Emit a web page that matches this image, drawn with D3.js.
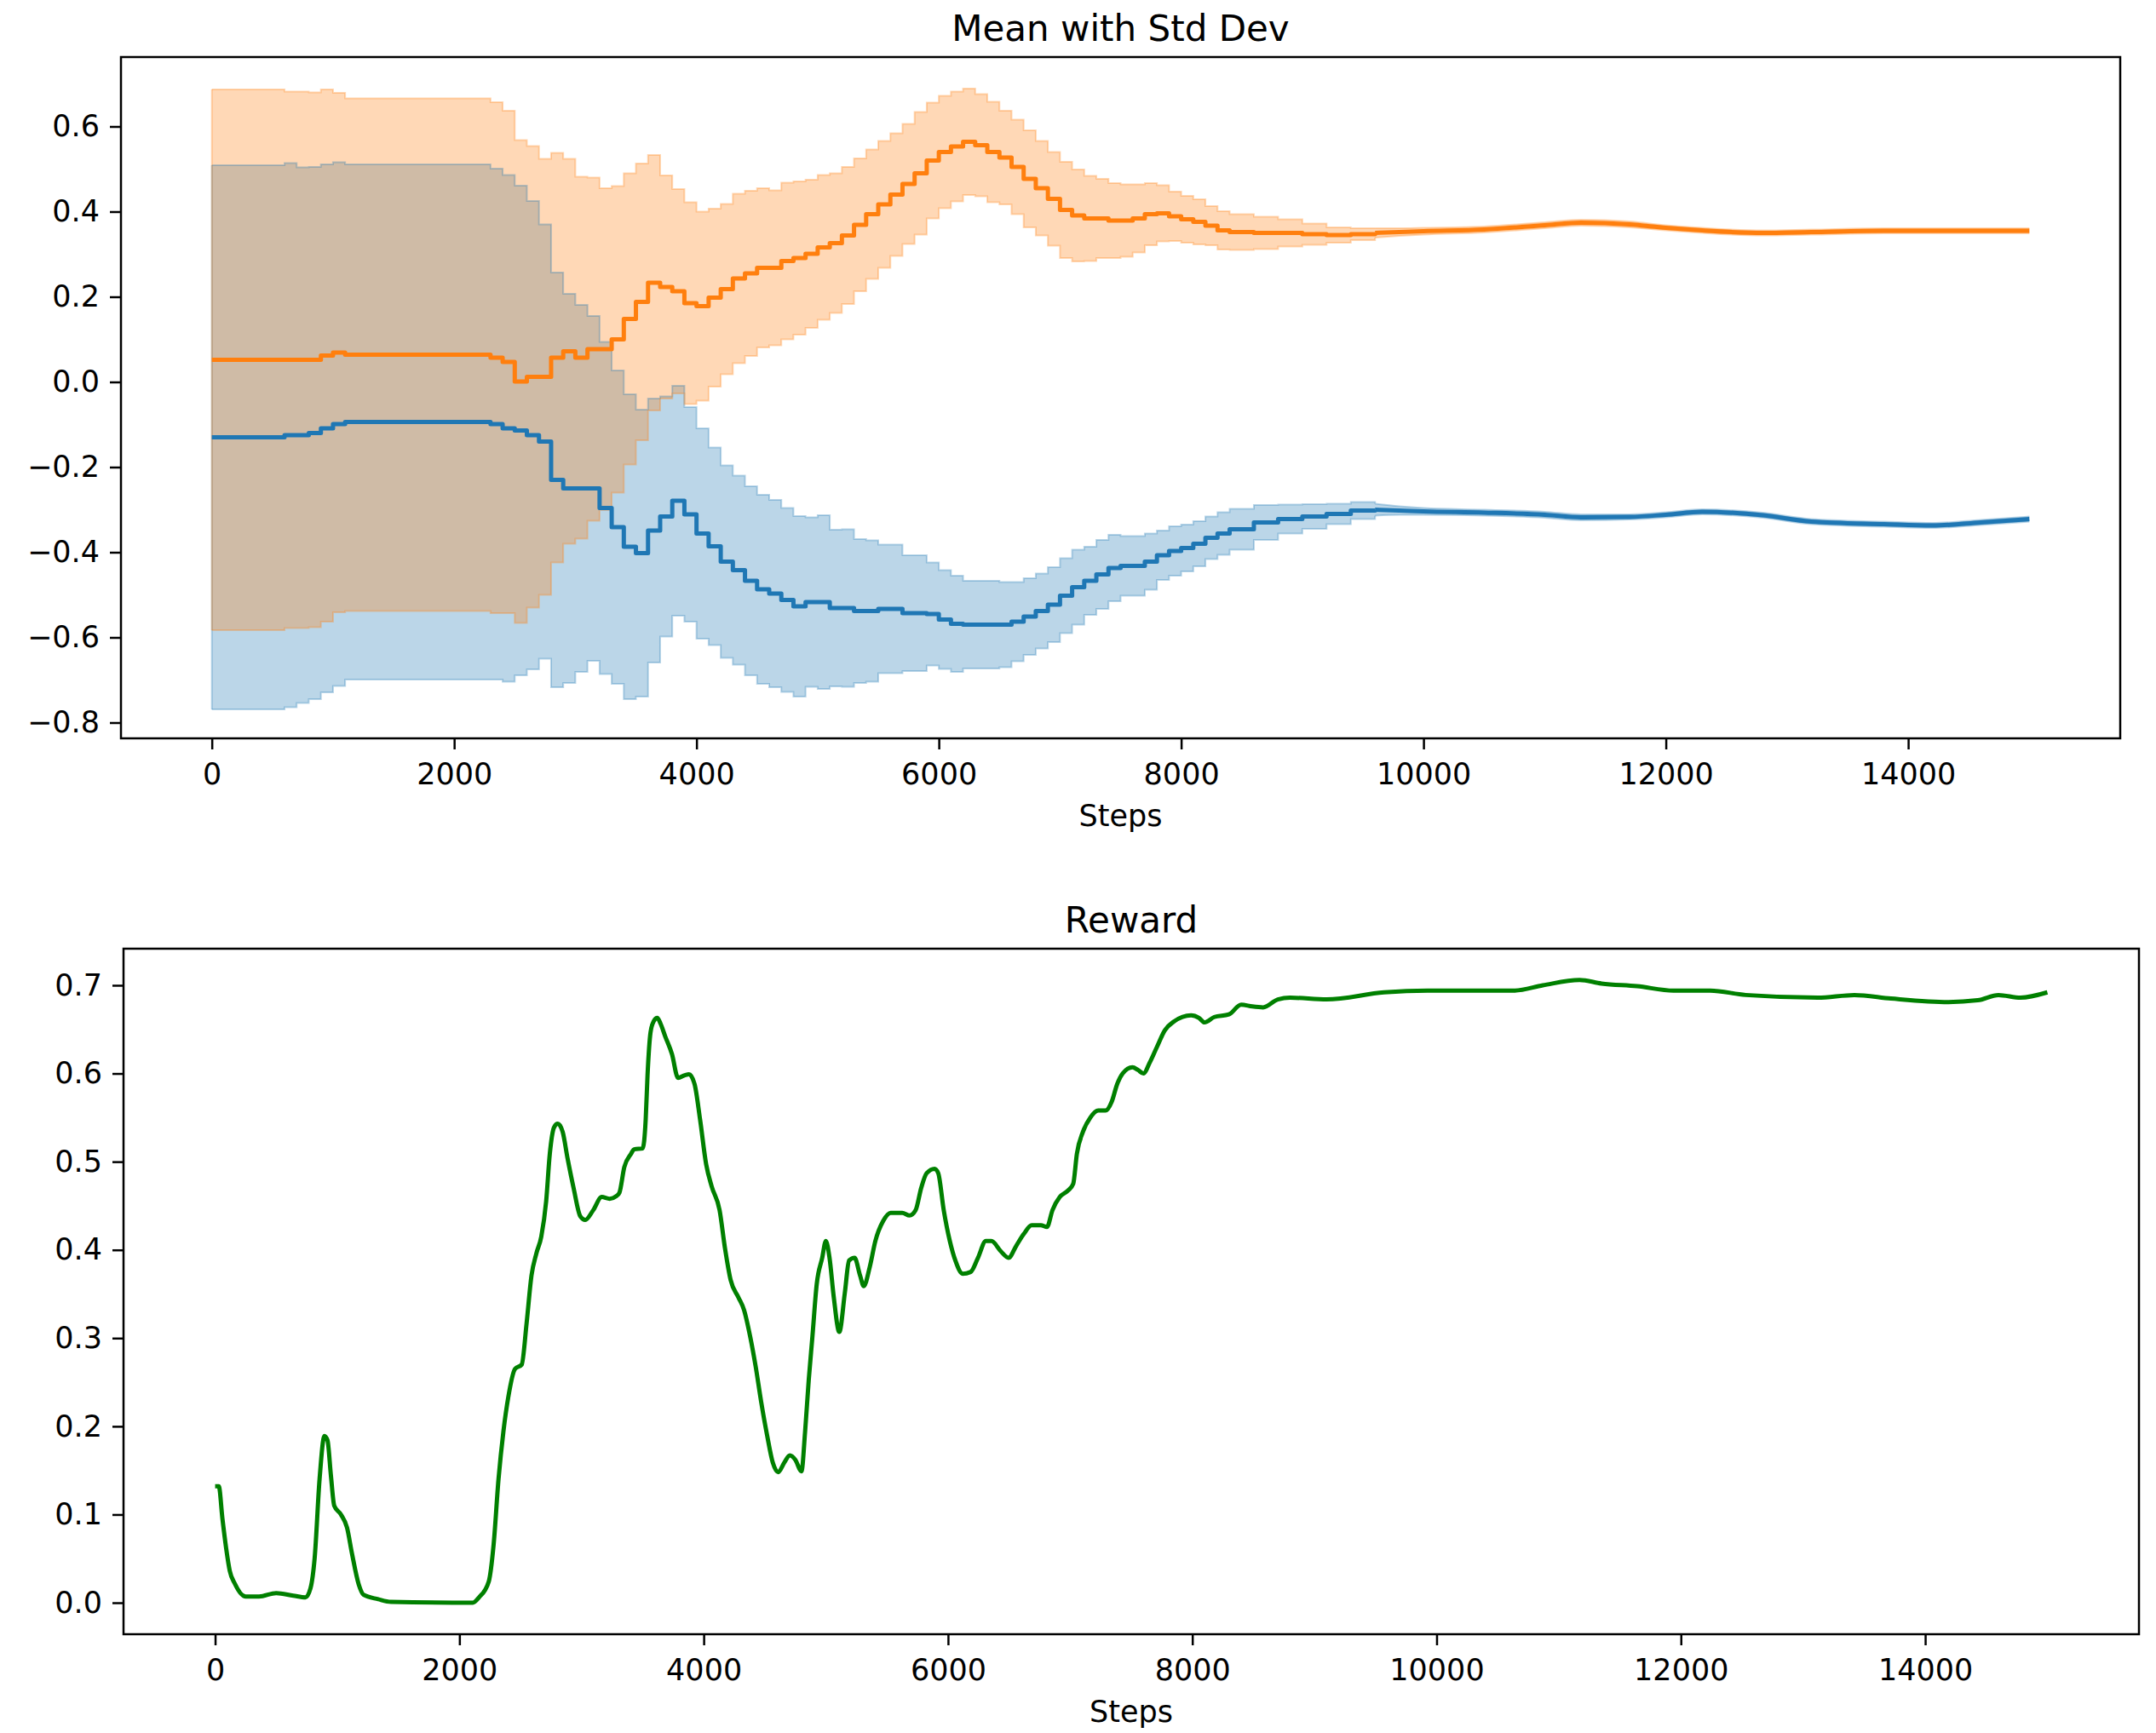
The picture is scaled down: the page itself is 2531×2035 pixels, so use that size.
<!DOCTYPE html>
<html>
<head>
<meta charset="utf-8">
<script src="https://cdn.jsdelivr.net/npm/d3@7"></script>
<style>
  body { margin: 0; background: #fff; }
  svg { display: block; }
  text { font-family: "DejaVu Sans", sans-serif; fill: #000; }
</style>
</head>
<body>
<div id="chart"></div>
<script>
// Datos: pasos de entrenamiento, media y desviación de las dos acciones
const steps = [0, 600, 700, 800, 900, 1000, 1100,
  2300, 2400, 2500, 2600, 2700, 2800, 2900, 3000, 3100, 3200,
  3300, 3400, 3500, 3600, 3700, 3800, 3900, 4000, 4100, 4200,
  4300, 4400, 4500, 4600, 4700, 4800, 4900, 5000, 5100, 5200,
  5300, 5400, 5500, 5600, 5700, 5800, 5900, 6000, 6100, 6200,
  6300, 6400, 6500, 6600, 6700, 6800, 6900, 7000, 7100, 7200,
  7300, 7400, 7500, 7600, 7700, 7800, 7900, 8000, 8100, 8200,
  8300, 8400,
  8600, 8800, 9000, 9200, 9400, 9600, 9800,
  10000, 10500, 11000, 11300, 11700, 12000, 12300, 12800, 13200, 13800, 14200, 14600, 15000];

const blueMean = [-0.130, -0.125, -0.125, -0.120, -0.109, -0.099, -0.094,
  -0.099, -0.109, -0.114, -0.125, -0.140, -0.230, -0.250, -0.250, -0.250, -0.296,
  -0.341, -0.387, -0.402, -0.349, -0.316, -0.279, -0.311, -0.356, -0.386, -0.422,
  -0.442, -0.467, -0.487, -0.497, -0.512, -0.527, -0.517, -0.517, -0.531, -0.531,
  -0.538, -0.538, -0.533, -0.533, -0.543, -0.543, -0.545, -0.558, -0.568, -0.570,
  -0.570, -0.570, -0.570, -0.563, -0.551, -0.538, -0.523, -0.502, -0.482, -0.467,
  -0.452, -0.437, -0.432, -0.432, -0.422, -0.407, -0.397, -0.390, -0.380, -0.366,
  -0.356, -0.346,
  -0.330, -0.322, -0.316, -0.310, -0.302, -0.300, -0.302,
  -0.304, -0.307, -0.312, -0.318, -0.317, -0.312, -0.305, -0.313, -0.328, -0.334, -0.337, -0.330, -0.322];

const blueStd = [0.639, 0.639, 0.629, 0.625, 0.620, 0.615, 0.605,
  0.600, 0.595, 0.575, 0.550, 0.510, 0.487, 0.457, 0.431, 0.405, 0.390,
  0.368, 0.358, 0.337, 0.310, 0.282, 0.270, 0.252, 0.247, 0.232, 0.226,
  0.222, 0.222, 0.222, 0.220, 0.216, 0.212, 0.199, 0.204, 0.184, 0.185,
  0.169, 0.166, 0.151, 0.151, 0.136, 0.136, 0.121, 0.116, 0.113, 0.103,
  0.103, 0.103, 0.100, 0.093, 0.090, 0.088, 0.088, 0.088, 0.088, 0.080,
  0.081, 0.078, 0.070, 0.070, 0.066, 0.058, 0.058, 0.055, 0.053, 0.050,
  0.050, 0.048,
  0.041, 0.034, 0.029, 0.024, 0.020, 0.014, 0.010,
  0.008, 0.007, 0.007, 0.007, 0.006, 0.006, 0.006, 0.006, 0.006, 0.006, 0.006, 0.006, 0.006];

const orangeMean = [0.052, 0.052, 0.052, 0.052, 0.062, 0.069, 0.064,
  0.057, 0.047, 0.001, 0.012, 0.012, 0.057, 0.072, 0.057, 0.077, 0.077,
  0.100, 0.148, 0.188, 0.233, 0.223, 0.213, 0.185, 0.178, 0.198, 0.218,
  0.243, 0.255, 0.268, 0.268, 0.284, 0.291, 0.301, 0.316, 0.326, 0.344,
  0.369, 0.394, 0.417, 0.440, 0.465, 0.490, 0.520, 0.540, 0.553, 0.564,
  0.556, 0.540, 0.527, 0.505, 0.477, 0.455, 0.430, 0.404, 0.391, 0.384,
  0.384, 0.379, 0.379, 0.384, 0.394, 0.396, 0.389, 0.382, 0.376, 0.367,
  0.356, 0.352,
  0.350, 0.350, 0.347, 0.345, 0.347, 0.350, 0.352,
  0.354, 0.358, 0.368, 0.374, 0.370, 0.362, 0.356, 0.350, 0.352, 0.355, 0.355, 0.355, 0.355];

const orangeStd = [0.635, 0.630, 0.630, 0.628, 0.625, 0.610, 0.602,
  0.600, 0.590, 0.567, 0.542, 0.512, 0.481, 0.452, 0.425, 0.403, 0.378,
  0.360, 0.342, 0.325, 0.300, 0.262, 0.240, 0.237, 0.222, 0.209, 0.200,
  0.199, 0.194, 0.187, 0.182, 0.184, 0.180, 0.174, 0.170, 0.164, 0.161,
  0.156, 0.152, 0.149, 0.144, 0.141, 0.144, 0.136, 0.132, 0.129, 0.125,
  0.120, 0.118, 0.110, 0.111, 0.114, 0.111, 0.110, 0.113, 0.108, 0.100,
  0.093, 0.088, 0.085, 0.080, 0.073, 0.066, 0.058, 0.055, 0.053, 0.046,
  0.045, 0.042,
  0.038, 0.032, 0.025, 0.018, 0.014, 0.011, 0.009,
  0.008, 0.007, 0.007, 0.007, 0.007, 0.006, 0.006, 0.006, 0.006, 0.006, 0.006, 0.006, 0.006];

// A partir de este paso los saltos son tan pequeños que la curva se ve suave
const smoothFrom = 9600;

// Recompensa
const rewardSteps = [0, 30, 60, 90, 120, 160, 250, 360, 500, 640, 740, 780, 815, 855, 895, 920, 948, 975,
  1030, 1080, 1120, 1175, 1215, 1335, 1440, 2110, 2160, 2240, 2280, 2320, 2360, 2400, 2455, 2510,
  2550, 2590, 2630, 2670, 2710, 2740, 2775, 2805, 2845, 2885, 2935, 2990, 3030, 3095, 3165, 3230,
  3285, 3310, 3350, 3405, 3430, 3500, 3525, 3540, 3565, 3590, 3620, 3645, 3685, 3740, 3790, 3845,
  3880, 3925, 3970, 4020, 4065, 4130, 4175, 4220, 4285, 4330, 4380, 4425, 4470, 4520, 4565, 4610,
  4660, 4705, 4750, 4800, 4830, 4860, 4890, 4925, 4970, 5000, 5030, 5065, 5110, 5155, 5190, 5235,
  5280, 5310, 5360, 5405, 5470, 5530, 5625, 5685, 5735, 5780, 5825, 5890, 5920, 5965, 6015, 6060,
  6120, 6185, 6245, 6310, 6355, 6435, 6495, 6560, 6620, 6685, 6760, 6810, 6855, 6915, 6980, 7025,
  7055, 7105, 7165, 7230, 7290, 7340, 7385, 7430, 7510, 7555, 7600, 7650, 7710, 7775, 7850, 7990,
  8055, 8100, 8180, 8300, 8400, 8490, 8580, 8700, 8800, 9100, 9570, 9925, 10640, 10870, 11170, 11350,
  11640, 11940, 12240, 12530, 13120, 13420, 13720, 14190, 14430, 14600, 14780, 15000];

const reward = [0.132, 0.132, 0.095, 0.062, 0.036, 0.022, 0.007, 0.007, 0.011, 0.008, 0.006, 0.016, 0.051, 0.140, 0.189, 0.184, 0.144, 0.110,
  0.100, 0.085, 0.056, 0.021, 0.009, 0.004, 0.001, 0.000, 0.006, 0.024, 0.066, 0.140, 0.194, 0.233, 0.265, 0.270,
  0.317, 0.371, 0.396, 0.415, 0.455, 0.509, 0.539, 0.543, 0.534, 0.504, 0.470, 0.438, 0.434, 0.445, 0.460, 0.458,
  0.461, 0.465, 0.494, 0.509, 0.514, 0.515, 0.548, 0.598, 0.647, 0.659, 0.663, 0.657, 0.642, 0.622, 0.595, 0.598,
  0.599, 0.588, 0.548, 0.497, 0.472, 0.445, 0.401, 0.366, 0.346, 0.332, 0.302, 0.268, 0.228, 0.189, 0.159, 0.148,
  0.159, 0.167, 0.162, 0.149, 0.194, 0.253, 0.302, 0.361, 0.391, 0.410, 0.391, 0.346, 0.307, 0.351, 0.388, 0.391,
  0.371, 0.359, 0.381, 0.410, 0.433, 0.442, 0.442, 0.439, 0.445, 0.470, 0.487, 0.492, 0.487, 0.445, 0.410, 0.388,
  0.373, 0.375, 0.391, 0.410, 0.410, 0.398, 0.391, 0.405, 0.418, 0.428, 0.428, 0.426, 0.445, 0.460, 0.467, 0.475,
  0.509, 0.534, 0.550, 0.558, 0.558, 0.568, 0.588, 0.600, 0.607, 0.604, 0.600, 0.612, 0.630, 0.649, 0.659, 0.666,
  0.663, 0.658, 0.664, 0.667, 0.678, 0.676, 0.675, 0.684, 0.686, 0.684, 0.692, 0.694, 0.694, 0.700, 0.706, 0.702,
  0.699, 0.694, 0.694, 0.689, 0.686, 0.689, 0.685, 0.681, 0.683, 0.689, 0.686, 0.692];

const xTicks = [0, 2000, 4000, 6000, 8000, 10000, 12000, 14000];
const meanYTicks = [-0.8, -0.6, -0.4, -0.2, 0.0, 0.2, 0.4, 0.6];
const rewardYTicks = [0.0, 0.1, 0.2, 0.3, 0.4, 0.5, 0.6, 0.7];

const width = 2531;
const height = 2035;
const fontSize = 35;

const svg = d3.select("#chart").append("svg")
  .attr("width", width)
  .attr("height", height);

svg.append("rect").attr("width", width).attr("height", height).attr("fill", "#fff");

const fmt = d => d3.format(".1f")(d).replace("-", "\u2212");

// Dibuja ejes, marco, título y etiqueta
function drawFrame(g, x, y, yTicks, box, title) {
  const xAxis = d3.axisBottom(x).tickValues(xTicks).tickSize(13).tickPadding(16)
    .tickFormat(d3.format("d"));
  const yAxis = d3.axisLeft(y).tickValues(yTicks).tickSize(13).tickPadding(12)
    .tickFormat(fmt);

  const gx = g.append("g").attr("transform", `translate(0,${box.bottom})`).call(xAxis);
  const gy = g.append("g").attr("transform", `translate(${box.left},0)`).call(yAxis);

  [gx, gy].forEach(a => {
    a.select(".domain").remove();
    a.selectAll("line").attr("stroke", "#000").attr("stroke-width", 2.5);
    a.selectAll("text")
      .attr("font-family", "DejaVu Sans")
      .attr("font-size", fontSize)
      .attr("fill", "#000");
  });

  g.append("rect")
    .attr("x", box.left)
    .attr("y", box.top)
    .attr("width", box.right - box.left)
    .attr("height", box.bottom - box.top)
    .attr("fill", "none")
    .attr("stroke", "#000")
    .attr("stroke-width", 2.5);

  g.append("text")
    .attr("x", (box.left + box.right) / 2)
    .attr("y", box.top - 19)
    .attr("text-anchor", "middle")
    .attr("font-size", 42)
    .text(title);

  g.append("text")
    .attr("x", (box.left + box.right) / 2)
    .attr("y", box.bottom + 103)
    .attr("text-anchor", "middle")
    .attr("font-size", fontSize)
    .text("Steps");
}

// Panel superior: media con desviación estándar
const topBox = { left: 142, right: 2489, top: 67, bottom: 867 };
const xTop = d3.scaleLinear().domain([-750, 15750]).range([topBox.left, topBox.right]);
const yTop = d3.scaleLinear().domain([-0.837, 0.763]).range([topBox.bottom, topBox.top]);

const gTop = svg.append("g");

const series = [
  { mean: blueMean, std: blueStd, color: "#1f77b4" },
  { mean: orangeMean, std: orangeStd, color: "#ff7f0e" }
];

function bandGen(curve) {
  return d3.area()
    .curve(curve)
    .x(d => xTop(d.s))
    .y0(d => yTop(d.m - d.sd))
    .y1(d => yTop(d.m + d.sd));
}

function lineGen(curve) {
  return d3.line()
    .curve(curve)
    .x(d => xTop(d.s))
    .y(d => yTop(d.m));
}

// Tramo escalonado y tramo suave, unidos en smoothFrom
const parts = [
  { keep: s => s <= smoothFrom, curve: d3.curveStepAfter },
  { keep: s => s >= smoothFrom, curve: d3.curveMonotoneX }
];

series.forEach(ser => {
  ser.rows = steps.map((s, i) => ({ s: s, m: ser.mean[i], sd: ser.std[i] }));
  // banda como un solo polígono: borde superior y luego inferior
  const upper = d3.line().x(d => xTop(d.s)).y(d => yTop(d.m + d.sd));
  let dPath = "";
  parts.forEach(p => {
    dPath += bandGen(p.curve)(ser.rows.filter(r => p.keep(r.s)));
  });
  gTop.append("path")
    .datum(ser.rows)
    .attr("d", dPath)
    .attr("fill", ser.color)
    .attr("fill-opacity", 0.3)
    .attr("stroke", "none");
});

series.forEach(ser => {
  parts.forEach(p => {
    const rows = ser.rows.filter(r => p.keep(r.s));
    const up = rows.map(r => ({ s: r.s, m: r.m + r.sd }));
    const lo = rows.map(r => ({ s: r.s, m: r.m - r.sd }));
    [up, lo].forEach(edge => {
      gTop.append("path")
        .datum(edge)
        .attr("d", lineGen(p.curve))
        .attr("fill", "none")
        .attr("stroke", ser.color)
        .attr("stroke-opacity", 0.3)
        .attr("stroke-width", 2);
    });
  });
  // borde vertical inicial de la banda
  const r0 = ser.rows[0];
  gTop.append("line")
    .attr("x1", xTop(r0.s)).attr("x2", xTop(r0.s))
    .attr("y1", yTop(r0.m - r0.sd)).attr("y2", yTop(r0.m + r0.sd))
    .attr("stroke", ser.color)
    .attr("stroke-opacity", 0.3)
    .attr("stroke-width", 2);
});

series.forEach(ser => {
  parts.forEach(p => {
    gTop.append("path")
      .datum(ser.rows.filter(r => p.keep(r.s)))
      .attr("d", lineGen(p.curve))
      .attr("fill", "none")
      .attr("stroke", ser.color)
      .attr("stroke-width", 5)
      .attr("stroke-linejoin", "round");
  });
});

drawFrame(gTop, xTop, yTop, meanYTicks, topBox, "Mean with Std Dev");

// Panel inferior: recompensa
const botBox = { left: 145, right: 2511, top: 1114, bottom: 1919 };
const xBot = d3.scaleLinear().domain([-750, 15750]).range([botBox.left, botBox.right]);
const yBot = d3.scaleLinear().domain([-0.0357, 0.7415]).range([botBox.bottom, botBox.top]);

const gBot = svg.append("g");

const rewardLine = d3.line()
  .curve(d3.curveMonotoneX)
  .x(d => xBot(d.s))
  .y(d => yBot(d.r));

gBot.append("path")
  .datum(rewardSteps.map((s, i) => ({ s: s, r: reward[i] })))
  .attr("d", rewardLine)
  .attr("fill", "none")
  .attr("stroke", "#008000")
  .attr("stroke-width", 5)
  .attr("stroke-linejoin", "round");

drawFrame(gBot, xBot, yBot, rewardYTicks, botBox, "Reward");
</script>
</body>
</html>
